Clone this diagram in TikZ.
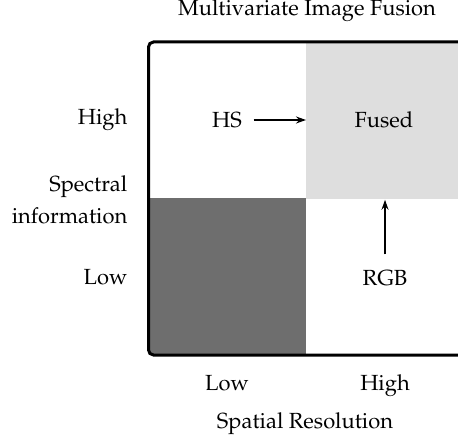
\documentclass[11pt,tikz,border=0pt]{standalone}
\usepackage[T1]{fontenc}
\usepackage{mathpazo}
\usepackage{xcolor}
\usetikzlibrary{arrows.meta,positioning}

\definecolor{fusedgray}{HTML}{DEDEDE}
\definecolor{lowgray}{HTML}{6E6E6E}

\begin{document}
\begin{tikzpicture}[
    x=0.5pt, y=-0.5pt,
    cell/.style={rectangle, minimum width=78.5pt, minimum height=78.5pt, inner sep=0pt, anchor=north west},
    frame/.style={line width=1.5pt, rounded corners=2.5pt},
    axistext/.style={anchor=east, align=right},
    arrow/.style={-{Stealth[length=5pt,width=3.5pt]}, line width=0.7pt}
]
    \useasboundingbox (0,0) rectangle (458,442);
    \clip (0,0) rectangle (458,442);

    \node[cell, fill=fusedgray] (fusedcell) at (306,42) {};
    \node[cell, fill=lowgray] (lowcell) at (149,198) {};
    \draw[frame] (475,42) -| (148.5,355) -- (475,355);

    \node (title) at (307,11) {Multivariate Image Fusion};
    \node (hs) at (227,120) {HS};
    \node (fused) at (384,120) {Fused};
    \node (rgb) at (385,278) {RGB};

    \node[axistext] (spechigh) at (135,120) {High};
    \node[axistext] (spectral) at (135,200) {Spectral\\[2.5pt]information};
    \node[axistext] (speclow) at (135,277) {Low};

    \node[anchor=base] (spatlow) at (227,390) {Low};
    \node[anchor=base] (spathigh) at (385,390) {High};
    \node (spatial) at (305,424) {Spatial Resolution};

    \draw[arrow, shorten <=2pt] (hs) -- (hs -| fusedcell.west);
    \draw[arrow, shorten <=4pt] (rgb) -- (rgb |- fusedcell.south);
\end{tikzpicture}
\end{document}
